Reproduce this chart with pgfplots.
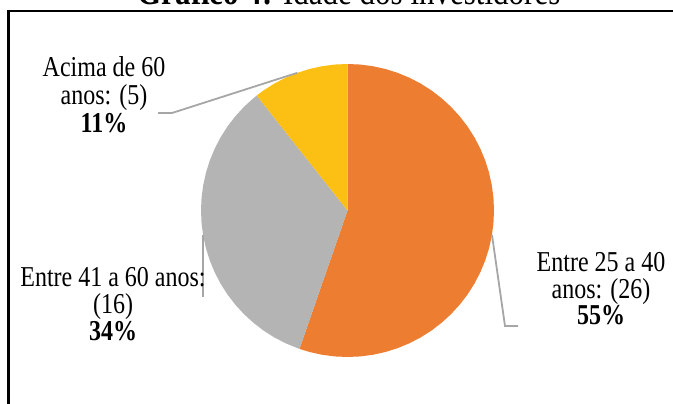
\documentclass[border=0pt]{standalone}
\usepackage{fontspec}
\setmainfont{Liberation Serif}
\usepackage{pgfplots}
\pgfplotsset{compat=1.18}
\definecolor{sorange}{HTML}{ED7D31}
\definecolor{sgray}{HTML}{B4B4B4}
\definecolor{syellow}{HTML}{FCBF14}
\definecolor{lead}{HTML}{A6A6A6}
\newcommand{\lab}[1]{\scalebox{1}[1.2]{#1}}
\tikzset{lbl/.style={font=\fontsize{24}{27}\selectfont, anchor=base, inner sep=0pt}}
\begin{document}
\begin{tikzpicture}
\useasboundingbox (0,0) rectangle (673pt,404pt);
\clip (0,0) rectangle (673pt,404pt);
\begin{axis}[
  x=1pt, y=1pt, hide axis, clip=false,
  xmin=-347.5, xmax=325.5, ymin=-193.5, ymax=210.5,
  anchor=origin, at={(347.5pt,193.5pt)},
]
% slices: Entre 25 a 40 (26) 55%, Entre 41 a 60 (16) 34%, Acima de 60 (5) 11% -- total 47
\addplot[fill=sorange, draw=none, data cs=polar] coordinates {
 (0,0) (90,146.5) (85,146.5) (80,146.5) (75,146.5) (70,146.5) (65,146.5) (60,146.5) (55,146.5)
 (50,146.5) (45,146.5) (40,146.5) (35,146.5) (30,146.5) (25,146.5) (20,146.5) (15,146.5)
 (10,146.5) (5,146.5) (0,146.5) (-5,146.5) (-10,146.5) (-15,146.5) (-20,146.5) (-25,146.5)
 (-30,146.5) (-35,146.5) (-40,146.5) (-45,146.5) (-50,146.5) (-55,146.5) (-60,146.5)
 (-65,146.5) (-70,146.5) (-75,146.5) (-80,146.5) (-85,146.5) (-90,146.5) (-95,146.5)
 (-100,146.5) (-105,146.5) (-109.15,146.5) (0,0)};
\addplot[fill=sgray, draw=none, data cs=polar] coordinates {
 (0,0) (-109.15,146.5) (-115,146.5) (-120,146.5) (-125,146.5) (-130,146.5) (-135,146.5)
 (-140,146.5) (-145,146.5) (-150,146.5) (-155,146.5) (-160,146.5) (-165,146.5) (-170,146.5)
 (-175,146.5) (-180,146.5) (-185,146.5) (-190,146.5) (-195,146.5) (-200,146.5) (-205,146.5)
 (-210,146.5) (-215,146.5) (-220,146.5) (-225,146.5) (-230,146.5) (-231.7,146.5) (0,0)};
\addplot[fill=syellow, draw=none, data cs=polar] coordinates {
 (0,0) (128.3,146.5) (125,146.5) (120,146.5) (115,146.5) (110,146.5) (105,146.5) (100,146.5)
 (95,146.5) (90,146.5) (0,0)};
% leader lines
\addplot[lead, line width=1.8pt] coordinates {(-189.5,97.5) (-175.5,97.5) (-50.1,137.7)};
\addplot[lead, line width=1.8pt] coordinates {(-144.4,-24.4) (-144.4,-86.5)};
\addplot[lead, line width=1.8pt] coordinates {(144.5,-24.4) (157.5,-115.5) (170.5,-115.5)};
% labels
\node[lbl] at (axis cs:-243.5,133.5) {\lab{Acima de 60}};
\node[lbl] at (axis cs:-243.5,105.5) {\lab{anos: (5)}};
\node[lbl] at (axis cs:-243.5,77.5) {\lab{\textbf{11\%}}};
\node[lbl] at (axis cs:-234.5,-76.5) {\lab{Entre 41 a 60 anos:}};
\node[lbl] at (axis cs:-234.5,-103.5) {\lab{(16)}};
\node[lbl] at (axis cs:-234.5,-130.5) {\lab{\textbf{34\%}}};
\node[lbl] at (axis cs:253.5,-61.5) {\lab{Entre 25 a 40}};
\node[lbl] at (axis cs:253.5,-88.5) {\lab{anos: (26)}};
\node[lbl] at (axis cs:253.5,-114.5) {\lab{\textbf{55\%}}};
% title
\node[lbl, font=\fontsize{31}{36}\selectfont] at (axis cs:1.5,205.5) {\lab{\textbf{Gráfico 4:} Idade dos investidores}};
% frame
\draw[line width=3pt] (axis cs:-339,-260) -- (axis cs:-339,200.5);
\draw[line width=2pt] (axis cs:-340.5,199.5) -- (axis cs:400,199.5);
\end{axis}
\end{tikzpicture}
\end{document}
